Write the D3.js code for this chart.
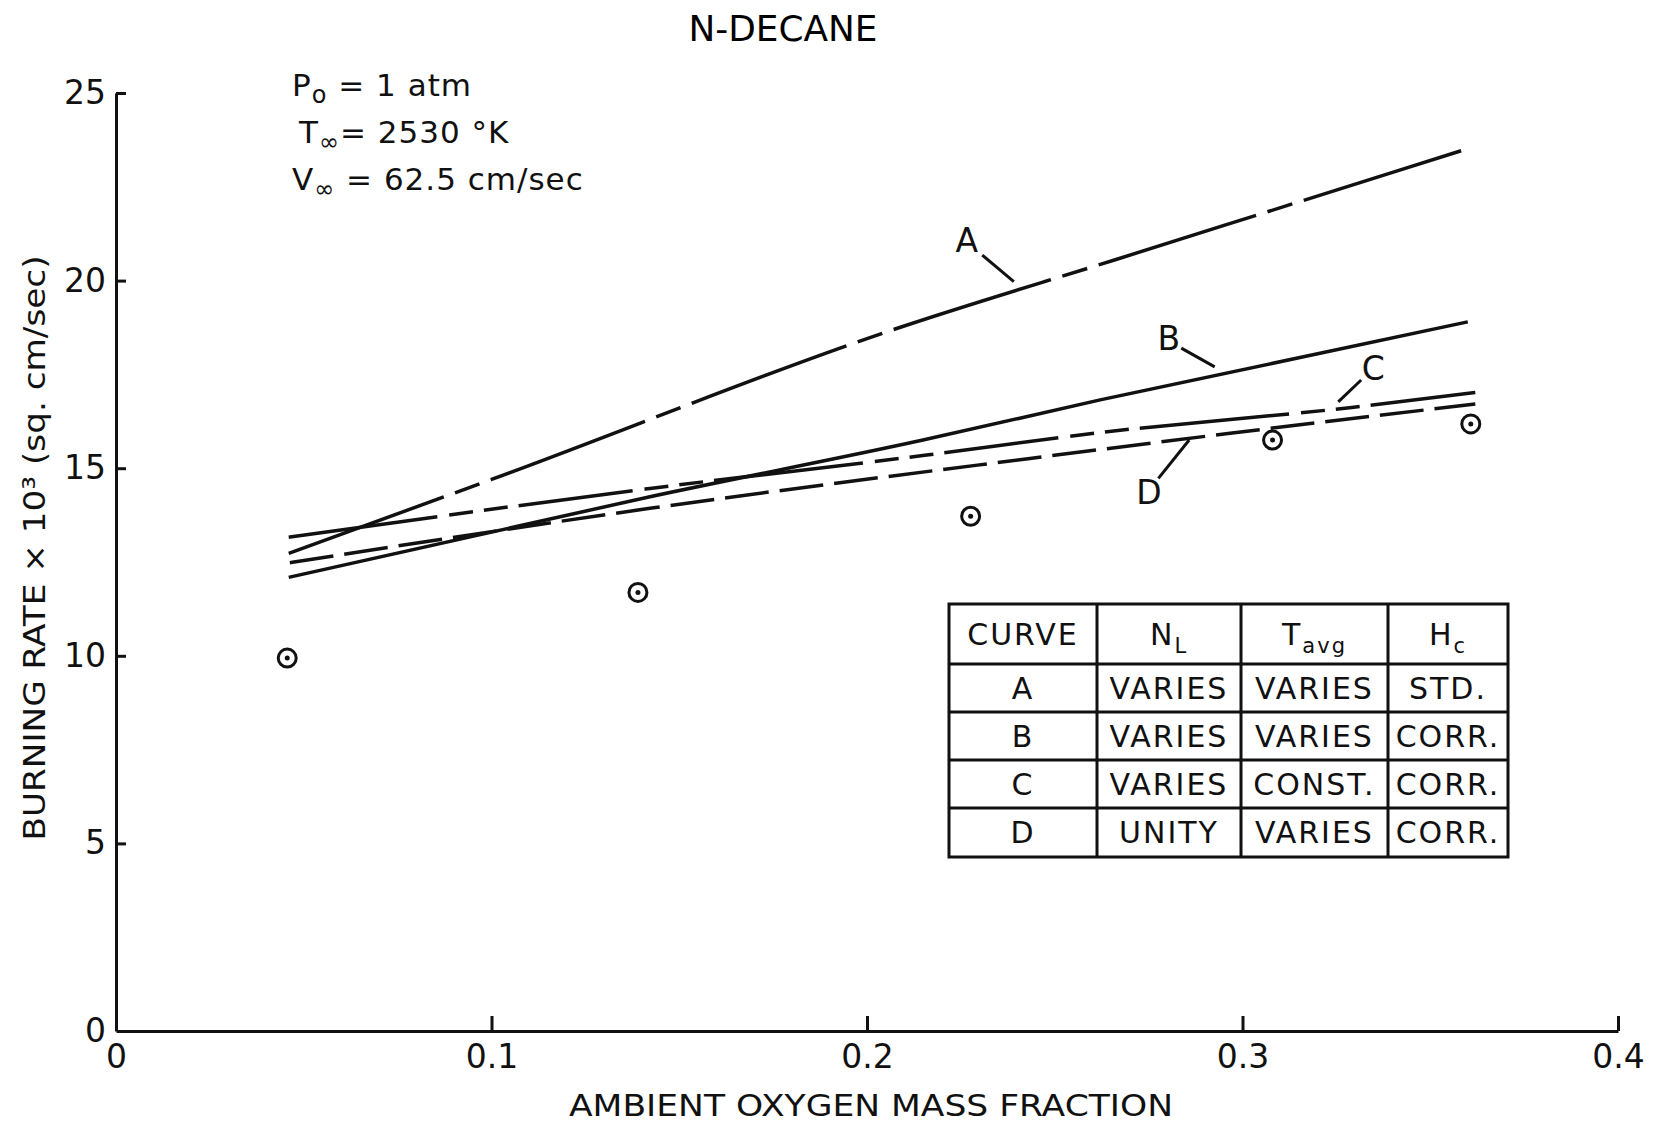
<!DOCTYPE html>
<html lang="en">
<head>
<meta charset="UTF-8">
<title>N-Decane Burning Rate</title>
<script src="https://d3js.org/d3.v7.min.js"></script>
<style>
  body { margin: 0; background: #fff; }
  svg { display: block; font-family: "DejaVu Sans", sans-serif; }
  .axis path, .axis line { stroke: #111; stroke-width: 3; }
  .axis text { font-size: 33px; fill: #111; font-family: "DejaVu Sans", sans-serif; }
  .curve { fill: none; stroke: #111; stroke-width: 3.5; }
  .label { font-size: 31px; fill: #111; }
  .note { font-size: 31px; fill: #111; letter-spacing: 1px; }
  .cell { font-size: 30px; fill: #111; letter-spacing: 2px; }
  .grid { stroke: #111; stroke-width: 3; fill: none; }
</style>
</head>
<body>
<svg id="chart" width="1656" height="1128"></svg>
<script>
// axis ticks
const xTicks = [0, 0.1, 0.2, 0.3, 0.4];
const xTickLabels = ["0", "0.1", "0.2", "0.3", "0.4"];
const yTicks = [0, 5, 10, 15, 20, 25];

// curves (oxygen mass fraction, burning rate x 10^3)
const aX = [0.046, 0.1, 0.2093, 0.2659, 0.3138, 0.3595];
const aY = [12.73, 14.7, 18.77, 20.55, 22.06, 23.5];
const bX = [0.046, 0.1422, 0.2149, 0.2621, 0.36];
const bY = [12.09, 14.24, 15.75, 16.82, 18.9];
const cX = [0.046, 0.1422, 0.2159, 0.2621, 0.3291, 0.362];
const cY = [13.16, 14.46, 15.35, 15.95, 16.62, 17.02];
const dX = [0.0463, 0.1422, 0.2434, 0.2967, 0.362];
const dY = [12.48, 13.93, 15.26, 15.93, 16.71];

// measured points
const ptX = [0.0456, 0.139, 0.2276, 0.308, 0.3608];
const ptY = [9.94, 11.69, 13.72, 15.75, 16.18];

// curve labels: letter position and leader line ends
const curveNames = ["A", "B", "C", "D"];
const labelX = [0.2266, 0.2804, 0.3348, 0.2751];
const labelY = [21.08, 18.47, 17.66, 14.37];
const leadX1 = [0.2307, 0.2837, 0.3316, 0.2776];
const leadY1 = [20.68, 18.2, 17.35, 14.73];
const leadX2 = [0.2391, 0.2926, 0.3255, 0.2858];
const leadY2 = [19.97, 17.7, 16.77, 15.75];

// table
const tableRows = [
  ["A", "VARIES", "VARIES", "STD."],
  ["B", "VARIES", "VARIES", "CORR."],
  ["C", "VARIES", "CONST.", "CORR."],
  ["D", "UNITY", "VARIES", "CORR."]
];

const svg = d3.select("#chart");
svg.append("rect").attr("width", 1656).attr("height", 1128).attr("fill", "#fff");

const x = d3.scaleLinear().domain([0, 0.4]).range([116, 1618]);
const y = d3.scaleLinear().domain([0, 25]).range([1031, 93]);

// axes
svg.append("g")
  .attr("class", "axis")
  .attr("transform", `translate(0,${y(0)})`)
  .call(d3.axisBottom(x).tickValues(xTicks).tickFormat((d, i) => xTickLabels[i])
    .tickSize(-15).tickSizeOuter(0).tickPadding(14))
  .call(g => g.selectAll(".tick").filter(d => d === 0).select("line").remove());

svg.append("g")
  .attr("class", "axis")
  .attr("transform", `translate(${x(0)},0)`)
  .call(d3.axisLeft(y).tickValues(yTicks).tickFormat(d3.format("d"))
    .tickSize(-10).tickSizeOuter(0).tickPadding(10))
  .call(g => g.selectAll(".tick").filter(d => d === 0).select("line").remove());

// axis titles
svg.append("text")
  .attr("class", "label")
  .attr("x", 871).attr("y", 1116)
  .attr("text-anchor", "middle")
  .attr("textLength", 604).attr("lengthAdjust", "spacingAndGlyphs")
  .text("AMBIENT OXYGEN MASS FRACTION");

svg.append("text")
  .attr("class", "label")
  .attr("transform", "translate(45,548) rotate(-90)")
  .attr("text-anchor", "middle")
  .attr("textLength", 585).attr("lengthAdjust", "spacingAndGlyphs")
  .text("BURNING RATE \u00d7 10\u00b3 (sq. cm/sec)");

svg.append("text")
  .attr("x", 783).attr("y", 41)
  .attr("text-anchor", "middle")
  .style("font-size", "35px")
  .attr("textLength", 189).attr("lengthAdjust", "spacingAndGlyphs")
  .text("N-DECANE");

// condition notes
const notes = [
  { x: 292, y: 96, main: "P", sub: "o", rest: " = 1 atm" },
  { x: 299, y: 143, main: "T", sub: "\u221e", rest: "= 2530 \u00b0K" },
  { x: 292, y: 190, main: "V", sub: "\u221e", rest: " = 62.5 cm/sec" }
];
notes.forEach(n => {
  const t = svg.append("text").attr("class", "note").attr("x", n.x).attr("y", n.y);
  t.append("tspan").text(n.main);
  t.append("tspan").attr("dy", 7).style("font-size", "24px").text(n.sub);
  t.append("tspan").attr("dy", -7).text(n.rest);
});

// curves
const line = d3.line().x(d => x(d[0])).y(d => y(d[1])).curve(d3.curveMonotoneX);
const curves = [
  { xs: aX, ys: aY, dash: "165,12,26,12" },
  { xs: bX, ys: bY, dash: null },
  { xs: cX, ys: cY, dash: "150,12,24,11,24,11,115,12,24,11,24,11" },
  { xs: dX, ys: dY, dash: "44,11" }
];
curves.forEach(c => {
  svg.append("path")
    .datum(c.xs.map((v, i) => [v, c.ys[i]]))
    .attr("class", "curve")
    .attr("stroke-dasharray", c.dash)
    .attr("d", line);
});

// labels and leaders
curveNames.forEach((name, i) => {
  svg.append("line")
    .attr("x1", x(leadX1[i])).attr("y1", y(leadY1[i]))
    .attr("x2", x(leadX2[i])).attr("y2", y(leadY2[i]))
    .attr("stroke", "#111").attr("stroke-width", 3);
  svg.append("text")
    .attr("x", x(labelX[i])).attr("y", y(labelY[i]))
    .attr("text-anchor", "middle").attr("dy", "0.36em")
    .style("font-size", "33px").attr("fill", "#111")
    .text(name);
});

// data points: circle with center dot
const pts = ptX.map((v, i) => [v, ptY[i]]);
svg.selectAll(".pt").data(pts).enter().append("circle")
  .attr("cx", d => x(d[0])).attr("cy", d => y(d[1]))
  .attr("r", 9).attr("fill", "#fff").attr("stroke", "#111").attr("stroke-width", 3);
svg.selectAll(".dot").data(pts).enter().append("circle")
  .attr("cx", d => x(d[0])).attr("cy", d => y(d[1]))
  .attr("r", 2.5).attr("fill", "#111");

// table
const colEdges = [949, 1097, 1241, 1388, 1508];
const rowEdges = [604, 664, 712, 760, 808, 857];
const tbl = svg.append("g");
tbl.append("rect").attr("class", "grid")
  .attr("x", colEdges[0]).attr("y", rowEdges[0])
  .attr("width", colEdges[4] - colEdges[0]).attr("height", rowEdges[5] - rowEdges[0]);
colEdges.slice(1, 4).forEach(cx => {
  tbl.append("line").attr("class", "grid")
    .attr("x1", cx).attr("x2", cx).attr("y1", rowEdges[0]).attr("y2", rowEdges[5]);
});
rowEdges.slice(1, 5).forEach(ry => {
  tbl.append("line").attr("class", "grid")
    .attr("x1", colEdges[0]).attr("x2", colEdges[4]).attr("y1", ry).attr("y2", ry);
});
const colMid = i => (colEdges[i] + colEdges[i + 1]) / 2;
const rowMid = j => (rowEdges[j] + rowEdges[j + 1]) / 2;

// header
const header = [["CURVE", ""], ["N", "L"], ["T", "avg"], ["H", "c"]];
header.forEach((h, i) => {
  const t = tbl.append("text").attr("class", "cell")
    .attr("x", colMid(i)).attr("y", rowMid(0)).attr("dy", "0.36em")
    .attr("text-anchor", "middle");
  t.append("tspan").text(h[0]);
  if (h[1]) t.append("tspan").attr("dy", 8).style("font-size", "21px").text(h[1]);
});
tableRows.forEach((row, j) => {
  row.forEach((v, i) => {
    tbl.append("text").attr("class", "cell")
      .attr("x", colMid(i)).attr("y", rowMid(j + 1)).attr("dy", "0.36em")
      .attr("text-anchor", "middle")
      .text(v);
  });
});
</script>
</body>
</html>
